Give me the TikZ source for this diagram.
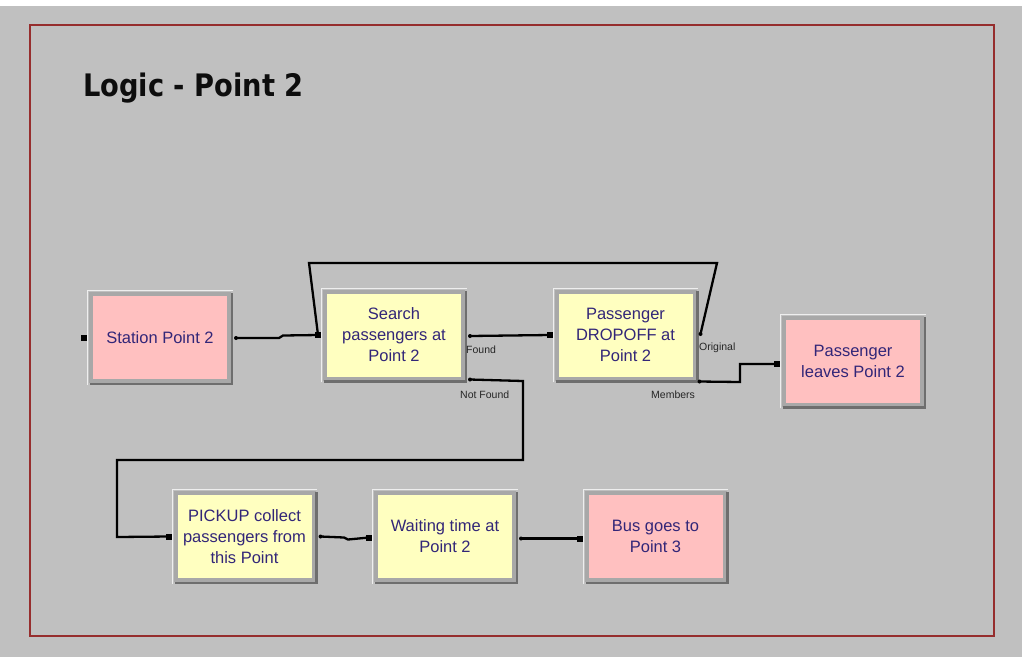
\documentclass[tikz,border=0pt]{standalone}
\usepackage{fontspec}
\usepackage{graphicx}
\setmainfont{Liberation Sans}
\newfontfamily\titlefont{DejaVu Sans}
\definecolor{bgc}{RGB}{192,192,192}
\definecolor{framec}{RGB}{150,45,45}
\definecolor{pinkc}{RGB}{255,192,192}
\definecolor{yelc}{RGB}{255,255,192}
\definecolor{bordc}{RGB}{168,168,168}
\definecolor{shadc}{RGB}{110,110,110}
\definecolor{txtc}{RGB}{50,38,120}
\tikzset{
  blk/.style={draw=bordc, line width=4pt, minimum width=138pt, minimum height=87pt,
    inner sep=0pt, align=center, text=txtc, font=\fontsize{16.5}{21}\selectfont},
  pinkb/.style={blk, fill=pinkc},
  yelb/.style={blk, fill=yelc},
  conn/.style={draw=black, line width=2.3pt, line join=miter},
  lbl/.style={font=\fontsize{10.5}{12}\selectfont, text=black!85, inner sep=0pt},
  shade/.style={draw=shadc, line width=2.5pt},
}
\newcommand\entrymark[1]{\fill[black] (#1) ++(-3pt,-3pt) rectangle ++(6pt,6pt);}
\newcommand\exitmark[1]{\fill[black] (#1) circle (2pt);}
\begin{document}
\begin{tikzpicture}[x=1pt,y=-1pt]
\fill[bgc] (0,0) rectangle (1022,657);
\fill[white] (0,0) rectangle (1022,6);
\useasboundingbox (0,0) rectangle (1022,657);
\draw[framec, line width=2pt] (30,25) rectangle (994,636);

\node[anchor=base west, inner sep=0pt, text=black!95, font=\titlefont\bfseries\fontsize{31}{36}\selectfont] (title) at (83,96) {\scalebox{0.88}[1]{Logic - Point 2}};

% blocks
\node[pinkb] (st) at (160,337.5) {Station Point 2};
\node[yelb] (se) at (394,335) {Search\\passengers at\\Point 2};
\node[yelb] (dr) at (625.5,335) {Passenger\\DROPOFF at\\Point 2};
\node[pinkb] (lv) at (853,361) {Passenger\\leaves Point 2};
\node[yelb] (pk) at (244.5,536.5) {PICKUP collect\\passengers from\\this Point};
\node[yelb] (wt) at (445,536.5) {Waiting time at\\Point 2};
\node[pinkb] (bs) at (655.5,536.5) {Bus goes to\\Point 3};

\foreach \n in {st,se,dr,lv,pk,wt,bs}{
  \draw[shade] ([xshift=1pt,yshift=-1pt]\n.south west) -- ([xshift=1pt,yshift=-1pt]\n.south east) -- ([xshift=1pt,yshift=-1pt]\n.north east);
  \draw[draw=white!80!bordc, line width=1pt] ([xshift=-1.5pt,yshift=-1.5pt]\n.south west) -- ([xshift=-1.5pt,yshift=1.5pt]\n.north west) -- ([xshift=1.5pt,yshift=1.5pt]\n.north east);
}

% entry / exit points
\coordinate (stin) at ([xshift=-5pt]st.west);
\coordinate (stout) at ([xshift=5pt,yshift=-0.5pt]st.east);
\coordinate (sein) at ([xshift=-5pt]se.west);
\coordinate (sefound) at ([xshift=5pt,yshift=-1pt]se.east);
\coordinate (senf) at ([xshift=5pt,yshift=1pt]se.south east);
\coordinate (drin) at ([xshift=-5pt]dr.west);
\coordinate (drorig) at ([xshift=4pt,yshift=1pt]dr.east);
\coordinate (drmem) at ([xshift=3pt,yshift=-1pt]dr.south east);
\coordinate (lvin) at ([xshift=-5pt,yshift=-3pt]lv.west);
\coordinate (pkin) at ([xshift=-5pt]pk.west);
\coordinate (pkout) at ([xshift=5pt]pk.east);
\coordinate (wtin) at ([xshift=-5pt,yshift=-1pt]wt.west);
\coordinate (wtout) at ([xshift=5pt,yshift=-2pt]wt.east);
\coordinate (bsin) at ([xshift=-5pt,yshift=-2pt]bs.west);

\coordinate (loopa) at (717,263);
\coordinate (loopb) at (309,263);
\coordinate (nfa) at (523,381);
\coordinate (nfb) at (523,460);
\coordinate (nfc) at (117,460);
\coordinate (nfd) at (117,537);
\coordinate (mma) at (740,382);
\coordinate (mmb) at (740,364);

% connectors
\draw[conn] (stout) -- (279,338) -- (283,335.5) -- (sein);
\draw[conn] (drorig) -- (loopa) -- (loopb) -- (sein);
\draw[conn] (sefound) -- (drin);
\draw[conn] (senf) -- (nfa) -- (nfb) -- (nfc) -- (nfd) -- (pkin);
\draw[conn] (drmem) -- (mma) -- (mmb) -- (lvin);
\draw[conn] (pkout) -- (344,537.5) -- (348,539.5) -- (wtin);
\draw[conn] (wtout) -- (bsin);

\entrymark{stin}
\entrymark{sein}
\entrymark{drin}
\entrymark{lvin}
\entrymark{pkin}
\entrymark{wtin}
\entrymark{bsin}
\exitmark{stout}
\exitmark{sefound}
\exitmark{senf}
\exitmark{drorig}
\exitmark{drmem}
\exitmark{pkout}
\exitmark{wtout}

% labels
\node[lbl, anchor=west] (lfound) at (466,350) {Found};
\node[lbl, anchor=west] (lnf) at (460,395) {Not Found};
\node[lbl, anchor=west] (lorig) at (699,348) {Original};
\node[lbl, anchor=west] (lmem) at (651,395) {Members};
\end{tikzpicture}
\end{document}
